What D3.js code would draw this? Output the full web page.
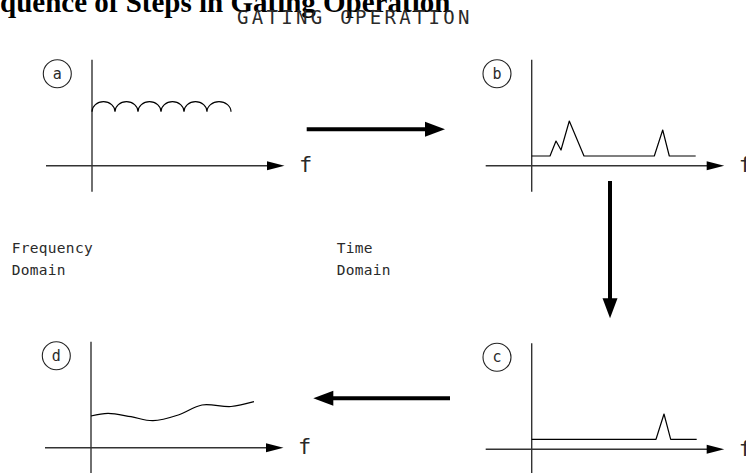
<!DOCTYPE html>
<html><head><meta charset="utf-8">
<script src="https://cdn.jsdelivr.net/npm/d3@7"></script>
<style>body{margin:0;background:#fff} svg{display:block}</style></head>
<body>
<svg id="chart" width="746" height="473"></svg>
<script>
// ---------- data ----------
const titleText = "Sequence of Steps in Gating Operation";
const subtitleText = "GATING OPERATION";
const panelIds = ["a", "b", "c", "d"];
const axisLabel = "f";
const leftDomainLabel = ["Frequency", "Domain"];
const rightDomainLabel = ["Time", "Domain"];
// panel a: scalloped response (cusp positions, cusp level, crest level)
const scallopCusps = [0, 23, 46, 69, 92, 115, 139];
const scallopBase = 54;
const scallopCrest = 64;
// panel b: time-domain response with reflections
const traceBx = [0, 18.3, 24.3, 29.3, 37.6, 52.3, 122.6, 131, 137.6, 164];
const traceBy = [9.7, 9.7, 24.7, 15.7, 44.7, 9.7, 9.7, 35.7, 9.7, 9.7];
// panel c: gated time-domain response
const traceCx = [0, 124.3, 132.3, 139, 165];
const traceCy = [10, 10, 35.3, 10, 10];
// panel d: gated frequency response
const traceDx = [0, 17, 40, 62, 88, 111, 140, 163];
const traceDy = [31.7, 34.3, 31, 27, 33, 42.7, 41.2, 46];

// ---------- layout ----------
const svg = d3.select("#chart");
const origins = { a: [92, 165.7], b: [531.7, 165.7], c: [531.7, 449.3], d: [91, 447.7] };
const mono = "'DejaVu Sans Mono', 'Liberation Mono', monospace";
const serif = "'Liberation Serif', 'Times New Roman', serif";
const ink = "#2a2a2a";

// title (clipped at top-left as in reference)
const title = svg.append("text")
  .attr("y", 12)
  .attr("font-family", serif)
  .attr("font-weight", "bold")
  .attr("font-size", 29)
  .attr("fill", "#000")
  .text(titleText);
const tmp = svg.append("text").attr("font-family", serif)
  .attr("font-weight", "bold").attr("font-size", 29).text("Se");
const seW = tmp.node().getComputedTextLength();
tmp.remove();
title.attr("x", -seW);

svg.append("text")
  .attr("x", 237).attr("y", 24)
  .attr("font-family", mono).attr("font-size", 19)
  .attr("letter-spacing", 3.3)
  .attr("fill", ink)
  .text(subtitleText);

function panel(id) {
  const [ox, oy] = origins[id];
  const g = svg.append("g");
  const x = d3.scaleLinear().domain([0, 100]).range([ox, ox + 100]);
  const y = d3.scaleLinear().domain([0, 100]).range([oy, oy - 100]);
  g.append("line").attr("x1", x(-46)).attr("x2", x(176)).attr("y1", y(0)).attr("y2", y(0))
    .attr("stroke", "#333").attr("stroke-width", 1.4);
  g.append("line").attr("x1", x(0)).attr("x2", x(0)).attr("y1", y(106)).attr("y2", y(-26))
    .attr("stroke", "#333").attr("stroke-width", 1.4);
  g.append("path")
    .attr("d", `M${x(175)},${y(4.5)} L${x(192.5)},${y(0)} L${x(175)},${y(-4.5)} Z`)
    .attr("fill", "#000");
  g.append("text").attr("x", x(207)).attr("y", y(-6.5))
    .attr("font-family", mono).attr("font-size", 22).attr("fill", ink)
    .text(axisLabel);
  g.append("circle").attr("cx", x(-34.7)).attr("cy", y(92)).attr("r", 14)
    .attr("fill", "none").attr("stroke", "#222").attr("stroke-width", 1.1);
  g.append("text").attr("x", x(-34.7)).attr("y", y(92)).attr("dy", "0.33em")
    .attr("text-anchor", "middle").attr("font-family", mono).attr("font-size", 15)
    .attr("fill", ink).text(id);
  return { g, x, y };
}

const P = {};
panelIds.forEach(id => P[id] = panel(id));

// panel a: scallops
{
  const { g, x, y } = P.a;
  let d = `M${x(scallopCusps[0])},${y(scallopBase)}`;
  for (let i = 1; i < scallopCusps.length; i++) {
    const rx = (x(scallopCusps[i]) - x(scallopCusps[i - 1])) / 2;
    const ry = y(scallopBase) - y(scallopCrest);
    d += ` A${rx},${ry} 0 0 1 ${x(scallopCusps[i])},${y(scallopBase)}`;
  }
  g.append("path").attr("d", d).attr("fill", "none").attr("stroke", "#000").attr("stroke-width", 1.2);
}
function trace(p, xs, ys, curve) {
  const { g, x, y } = p;
  const line = d3.line().x(d => x(d[0])).y(d => y(d[1])).curve(curve);
  g.append("path").attr("d", line(xs.map((v, i) => [v, ys[i]])))
    .attr("fill", "none").attr("stroke", "#000").attr("stroke-width", 1.2)
    .attr("stroke-linejoin", "round");
}
trace(P.b, traceBx, traceBy, d3.curveLinear);
trace(P.c, traceCx, traceCy, d3.curveLinear);
trace(P.d, traceDx, traceDy, d3.curveCatmullRom.alpha(0.5));

// domain labels
function twoLine(lines, xPos, y0) {
  lines.forEach((t, i) => svg.append("text").attr("x", xPos).attr("y", y0 + i * 21.7)
    .attr("font-family", mono).attr("font-size", 14.5).attr("letter-spacing", 0.3)
    .attr("fill", ink).text(t));
}
twoLine(leftDomainLabel, 11.7, 253.3);
twoLine(rightDomainLabel, 336.7, 253.3);

// flow arrows
const flows = [
  { from: [306.7, 129.3], to: [445, 129.3] },
  { from: [610, 181], to: [610, 318.3] },
  { from: [450, 398.3], to: [313.3, 398.3] }
];
flows.forEach(f => {
  const dx = f.to[0] - f.from[0], dy = f.to[1] - f.from[1];
  const L = Math.hypot(dx, dy), ux = dx / L, uy = dy / L;
  const hl = 20, hw = 7.5;
  const bx = f.to[0] - ux * hl, by = f.to[1] - uy * hl;
  svg.append("line").attr("x1", f.from[0]).attr("y1", f.from[1]).attr("x2", bx + ux).attr("y2", by + uy)
    .attr("stroke", "#000").attr("stroke-width", 4);
  svg.append("path")
    .attr("d", `M${f.to[0]},${f.to[1]} L${bx - uy * hw},${by + ux * hw} L${bx + uy * hw},${by - ux * hw} Z`)
    .attr("fill", "#000");
});
</script>
</body></html>
